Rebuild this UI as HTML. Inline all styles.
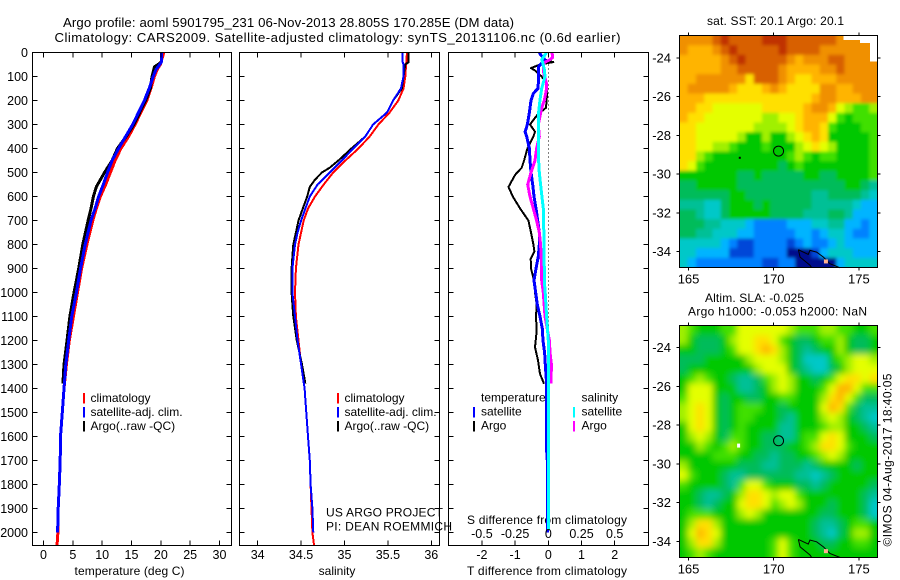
<!DOCTYPE html>
<html>
<head>
<meta charset="utf-8">
<title>Argo profile</title>
<style>
html,body{margin:0;padding:0;background:#fff;}
svg{display:block;}
text{font-family:"Liberation Sans",sans-serif;font-size:12px;fill:#000;}
.ti{font-size:13.2px;}
.tick{font-size:12.5px;}
.mt{font-size:13px;}
</style>
</head>
<body>
<svg id="root" xmlns="http://www.w3.org/2000/svg" width="900" height="580" viewBox="0 0 900 580">
<defs>
<filter id="blur-sst" filterUnits="userSpaceOnUse" x="650" y="0" width="250" height="300"><feGaussianBlur stdDeviation="1.5"/></filter>
<filter id="blur-sla" filterUnits="userSpaceOnUse" x="650" y="290" width="250" height="290"><feGaussianBlur stdDeviation="3.5"/></filter>
<clipPath id="clip-sst"><rect x="679.5" y="35.5" width="198" height="232"/></clipPath>
<clipPath id="clip-sla"><rect x="679.5" y="325.5" width="198" height="232"/></clipPath>
</defs>
<text class="ti" x="63" y="27" textLength="451">Argo profile: aoml 5901795_231 06-Nov-2013 28.805S 170.285E (DM data)</text>
<text class="ti" x="54.5" y="42" textLength="566">Climatology: CARS2009. Satellite-adjusted climatology: synTS_20131106.nc (0.6d earlier)</text>
<text x="129.5" y="575" text-anchor="middle" textLength="110">temperature (deg C)</text>
<text x="337" y="575" text-anchor="middle">salinity</text>
<text x="467" y="575" textLength="160">T difference from climatology</text>
<text x="467" y="524" textLength="160">S difference from climatology</text>
<text x="326" y="516.5" textLength="117">US ARGO PROJECT</text>
<text x="326" y="530.5" textLength="126">PI: DEAN ROEMMICH</text>
<text x="707" y="25" textLength="137">sat. SST: 20.1 Argo: 20.1</text>
<text x="705" y="302" textLength="99">Altim. SLA: -0.025</text>
<text x="688" y="315.5" textLength="179">Argo h1000: -0.053 h2000: NaN</text>
<text x="0" y="0" transform="translate(891.5,546.5) rotate(-90)" textLength="173">©IMOS 04-Aug-2017 18:40:05</text>
</svg>
<script>
// ---- profile data: depths in metres, values in deg C / PSU ----
const depthTicks = [0,100,200,300,400,500,600,700,800,900,1000,1100,1200,1300,1400,1500,1600,1700,1800,1900,2000];
const tempTicks = [0,5,10,15,20,25,30];
const salTicks = [34,34.5,35,35.5,36];
const salTickLabels = ['34','34.5','35','35.5','36'];
const tDiffTicks = [-2,-1,0,1,2];
const tDiffLabels = ['-2','-1','0','1','2'];
const sDiffTicks = [-0.5,-0.25,0,0.25,0.5];
const sDiffLabels = ['-0.5','-0.25','0','0.25','0.5'];

const tempClimDepth = [0,50,70,100,150,200,250,300,350,400,450,500,550,600,650,700,800,900,1000,1100,1200,1300,1400,1500,1600,1700,1800,1900,2000,2055];
const tempClimValue = [20.5,19.9,19.4,18.9,18.3,17.6,16.6,15.6,14.5,13.2,12.2,11.4,10.6,9.7,9,8.4,7.4,6.5,5.8,5.1,4.4,3.9,3.5,3.2,2.9,2.85,2.7,2.5,2.45,2.3];
const tempSatDepth = [0,40,50,70,100,150,200,250,300,350,400,450,500,550,600,650,700,800,900,1000,1100,1200,1300,1400,1500,1600,1700,1800,1900,2000];
const tempSatValue = [20.1,20.1,19.8,19.2,18.7,18,17.2,16.2,15.2,14,12.8,11.7,10.9,10.2,9.4,8.8,8.1,7.1,6.3,5.6,4.8,4.3,3.8,3.5,3.2,2.9,2.85,2.7,2.5,2.4];
const tempArgoDepth = [0,40,60,100,150,200,250,300,350,400,450,500,530,560,600,650,700,800,900,1000,1100,1200,1300,1380];
const tempArgoValue = [20.1,20.1,18.9,18.5,18.2,17.4,16.4,15.4,14.1,12.6,11.7,10.4,9.7,9,8.5,8.1,7.6,6.7,6,5.2,4.5,4,3.5,3.3];

const salClimDepth = [0,50,100,150,200,250,300,350,400,450,500,550,600,650,700,750,800,900,1000,1100,1200,1300,1400,1500,1600,1700,1800,1900,2000,2055];
const salClimValue = [35.72,35.71,35.7,35.68,35.62,35.52,35.39,35.29,35.16,35.01,34.87,34.76,34.66,34.58,34.53,34.5,34.47,34.44,34.43,34.44,34.47,34.5,34.54,34.56,34.58,34.6,34.61,34.62,34.63,34.65];
const salSatDepth = [0,40,50,100,150,200,250,300,350,400,450,500,550,600,650,700,750,800,900,1000,1100,1200,1300,1400,1500,1600,1700,1800,1900,2000];
const salSatValue = [35.67,35.67,35.68,35.68,35.65,35.56,35.49,35.33,35.24,35.1,34.97,34.83,34.69,34.6,34.55,34.5,34.46,34.43,34.4,34.4,34.43,34.46,34.5,34.54,34.56,34.58,34.6,34.61,34.63,34.64];
const salArgoDepth = [0,40,50,100,150,200,250,300,350,400,450,480,500,530,560,600,650,700,750,800,850,900,1000,1050,1100,1200,1300,1380];
const salArgoValue = [35.74,35.74,35.7,35.68,35.66,35.56,35.49,35.33,35.24,35.08,34.93,34.83,34.74,34.66,34.6,34.57,34.52,34.47,34.44,34.41,34.4,34.39,34.39,34.4,34.41,34.45,34.51,34.55];

const dTempArgoDepth = [30,40,50,65,75,100,130,150,200,230,260,300,330,350,400,450,480,510,560,600,650,700,750,800,830,860,900,950,1000,1050,1100,1160,1228,1283,1339,1380];
const dTempArgoValue = [-0.1,0.15,-0.25,-0.52,-0.4,-0.2,-0.05,-0.03,-0.05,-0.07,-0.33,-0.55,-0.4,-0.45,-0.63,-0.73,-0.8,-1,-1.2,-1.07,-0.85,-0.6,-0.52,-0.45,-0.42,-0.53,-0.52,-0.43,-0.4,-0.35,-0.37,-0.35,-0.4,-0.31,-0.25,-0.13];
const dTempSatDepth = [0,10,30,40,60,100,150,170,200,250,300,330,350,400,450,500,550,600,650,700,750,800,850,900,950,1000,1050,1100,1150,1200,1250,1300,1380,1500,1650,1700,2000];
const dTempSatValue = [-0.27,-0.23,-0.1,-0.17,-0.3,-0.29,-0.31,-0.45,-0.52,-0.57,-0.63,-0.7,-0.65,-0.57,-0.55,-0.52,-0.47,-0.43,-0.37,-0.32,-0.27,-0.27,-0.3,-0.37,-0.43,-0.38,-0.33,-0.25,-0.18,-0.16,-0.11,-0.09,-0.05,-0.055,-0.055,-0.03,-0.03];
const dSalArgoDepth = [0,20,30,40,50,70,90,130,150,200,230,300,350,400,450,500,550,600,650,700,750,800,900,950,1000,1100,1200,1250,1300,1380];
const dSalArgoValue = [0.028,0.033,0.013,-0.025,-0.038,-0.038,-0.033,-0.013,-0.013,-0.03,-0.05,-0.075,-0.068,-0.088,-0.1,-0.13,-0.155,-0.138,-0.113,-0.088,-0.068,-0.058,-0.05,-0.05,-0.038,-0.025,0.008,0.013,0.023,0.02];
const dSalSatDepth = [0,30,40,70,100,150,200,250,300,350,400,450,500,550,600,650,700,750,800,900,950,1000,1100,1200,1400,1990];
const dSalSatValue = [-0.013,-0.05,-0.043,-0.03,-0.025,-0.05,-0.063,-0.073,-0.075,-0.075,-0.073,-0.073,-0.068,-0.058,-0.048,-0.038,-0.038,-0.033,-0.033,-0.03,-0.03,-0.023,-0.013,0,0.003,0.003];

// ---- map data: colour-scale index per 0.5 degree cell, north to south ----
const mapLonTicks = [165,170,175];
const mapLatTicks = [-24,-26,-28,-30,-32,-34];
const floatLon = [170.285];
const floatLat = [-28.805];
const coastWestLon = [171.45,171.55,172.13,172.23];
const coastWestLat = [-33.9,-34.28,-34.7,-34.83];
const coastEastLon = [171.45,172.03,172.13,172.52,172.92,173.3,173.9];
const coastEastLat = [-33.9,-34.14,-33.93,-34.02,-34.28,-34.62,-34.83];
const noDataLon = [174.09,176.1,176.1,175.65,175.65,175.07,175.07,174.09];
const noDataLat = [-22.8,-22.8,-24.19,-24.19,-23.23,-23.23,-23.07,-23.07];
const sstRows = [
[13,13,13,13,14,15,14,14,14,14,15,15,15,14,14,14,14,14,14,13,13,13,13,13],
[13,12,12,12,13,14,15,14,14,14,14,14,15,14,14,14,14,13,13,13,13,13,13,13],
[12,12,12,12,12,13,14,15,14,14,14,14,14,13,12,13,13,13,14,14,13,13,13,13],
[12,12,12,12,12,13,13,14,14,14,14,14,13,12,12,12,12,13,13,14,13,13,13,13],
[12,12,13,13,13,13,13,13,11,14,14,14,13,12,11,11,12,12,12,13,13,13,13,13],
[12,13,13,13,13,13,12,11,11,11,12,13,12,11,11,11,11,13,13,12,12,13,13,13],
[12,12,12,11,11,11,11,11,11,11,11,11,11,11,11,11,12,13,13,12,12,12,13,13],
[12,12,11,11,10,10,10,10,10,10,11,11,11,11,11,12,13,13,12,10,9,8,8,9],
[12,11,11,10,10,10,10,10,10,10,9,9,10,10,11,12,12,12,10,8,7,8,8,8],
[11,11,10,10,10,10,10,10,10,9,9,9,9,10,11,12,12,11,8,7,7,7,8,8],
[11,11,10,10,10,10,10,9,7,7,9,7,7,9,10,11,12,11,7,7,7,7,7,8],
[11,11,10,10,9,9,8,7,7,7,8,7,7,7,9,10,11,10,9,7,7,7,7,8],
[11,11,9,8,7,7,7,7,7,7,7,7,7,8,9,8,7,8,8,7,7,7,7,8],
[11,10,8,7,7,7,7,7,7,7,7,7,6,7,8,7,7,7,7,7,7,7,7,8],
[7,7,7,7,7,7,7,6,6,7,6,6,6,6,6,7,7,6,6,7,7,7,7,8],
[6,6,7,7,7,7,7,6,6,6,6,6,6,6,6,6,6,6,6,6,7,7,6,5],
[6,6,6,6,6,6,7,7,6,6,6,6,6,6,6,6,5,5,6,6,6,6,5,4],
[5,5,5,4,4,6,7,7,7,6,7,6,6,6,6,6,5,5,5,5,5,4,3,3],
[6,6,5,4,4,6,7,7,7,7,7,6,6,6,6,5,5,5,6,6,5,3,3,3],
[6,6,6,5,5,4,4,4,3,2,2,2,2,3,3,3,4,4,5,5,3,3,2,3],
[6,6,5,5,4,4,4,3,3,2,2,2,2,2,3,3,2,3,4,4,3,2,2,3],
[4,4,4,4,4,3,2,1,1,2,2,2,2,1,2,3,2,2,3,4,3,3,3,3],
[4,4,3,3,3,3,1,1,1,2,2,2,2,0,0,0,1,3,4,4,4,3,3,3],
[4,3,2,2,2,2,2,2,2,2,1,1,2,2,0,0,0,0,0,3,4,4,4,4]
];
const slaRows = [
[9,8,7,7,7,8,8,10,10,10,10,10,10,9,8,8,8,9,9,8,8,7,7,8],
[9,7,6,6,6,7,9,10,10,11,11,10,8,7,6,6,7,8,8,9,7,6,6,7],
[7,7,6,6,6,7,8,10,10,11,12,11,9,7,6,5,6,7,7,9,7,6,6,7],
[6,6,6,7,7,7,7,7,9,10,10,10,9,7,6,4,4,4,7,8,9,10,10,9],
[6,7,7,7,7,7,7,7,7,9,10,10,10,7,6,5,4,4,6,7,9,10,10,10],
[7,8,9,8,7,7,6,5,5,6,8,9,10,9,7,7,6,7,8,10,11,11,10,11],
[7,10,10,10,7,7,7,5,5,6,7,9,10,9,7,7,7,8,10,12,12,10,8,8],
[8,10,10,10,7,6,7,7,6,6,7,7,8,8,7,7,7,9,11,12,10,8,6,6],
[9,10,11,10,7,6,7,8,8,8,7,7,6,7,7,7,7,10,12,11,8,6,5,5],
[9,10,11,10,7,6,7,8,8,7,7,7,6,5,7,7,7,9,10,9,7,6,5,4],
[7,10,11,10,7,6,7,8,7,7,7,7,5,5,7,7,7,8,9,9,7,7,6,5],
[7,9,10,9,7,6,8,8,7,7,6,6,5,5,7,8,8,10,11,10,7,7,7,6],
[7,7,9,8,7,8,9,8,7,7,6,6,6,7,7,8,9,11,11,10,8,7,7,7],
[7,7,7,7,8,8,8,7,7,6,6,5,6,6,7,7,8,9,10,9,7,7,7,7],
[9,7,7,7,7,7,7,6,6,6,5,5,6,6,6,5,6,7,7,7,7,6,7,7],
[10,8,7,7,7,6,5,5,6,6,6,6,6,6,5,5,4,5,6,7,7,7,7,7],
[8,7,7,7,7,6,5,8,10,10,8,7,7,7,6,6,5,6,7,7,7,7,7,6],
[7,7,6,5,5,6,7,9,11,11,10,9,10,10,8,7,7,7,7,7,7,7,6,5],
[7,7,6,5,6,7,7,10,11,11,10,8,9,10,9,7,7,7,6,7,7,7,6,4],
[7,8,8,8,7,7,7,9,10,9,7,7,7,7,7,7,7,6,6,7,7,7,6,4],
[7,9,11,11,9,7,7,7,7,7,7,7,7,7,7,7,6,5,5,6,7,8,8,7],
[7,10,12,11,10,7,7,7,7,7,7,7,7,7,7,7,6,5,4,6,7,9,9,7],
[7,9,11,11,9,7,7,7,7,7,7,8,10,8,7,7,7,6,6,7,7,8,8,7],
[7,8,9,8,7,7,7,7,7,7,7,8,10,8,7,7,7,7,7,7,7,7,7,7]
];

// ---- layout and scales ----
const svg = document.getElementById('root');
const NS = 'http://www.w3.org/2000/svg';
const COLORS = ['#000a8c','#0046d8','#0082ff','#00b4ff','#00c8c8','#00c096','#00bc5a','#00c800','#40e000','#a0f000','#e4ff00','#ffe000','#ffb400','#f09000','#d86000','#c03000'];
const TOP = 52.5, BOTTOM = 545.5;
function yDepth(d){ return TOP + d * 0.24; }
function xTemp(t){ return 43.5 + t * 5.867; }
function xSal(s){ return 257.7 + (s - 34) * 86.8; }
function xDT(t){ return 548.3 + t * 33.2; }
function xDS(s){ return 548.3 + s * 132.8; }
function xLon(lon){ return 773.7 + (lon - 170) * 17.03; }
function ySst(lat){ return 58 + (-24 - lat) * 19.37; }
function ySla(lat){ return 347.7 + (-24 - lat) * 19.37; }

function mk(tag, attrs){
  const el = document.createElementNS(NS, tag);
  for (const k in attrs) el.setAttribute(k, attrs[k]);
  svg.appendChild(el);
  return el;
}
function lbl(str, x, y, anchor, cls){
  const el = mk('text', {x: x, y: y, 'text-anchor': anchor, 'class': cls});
  el.textContent = str;
  
  
  return el;
}
function seg(x1, y1, x2, y2){
  const el = mk('line', {x1: x1, y1: y1, x2: x2, y2: y2, stroke: '#000', 'stroke-width': 1, 'shape-rendering': 'crispEdges'});
  
  
  return el;
}
function frame(x0, y0, x1, y1, name){
  const el = mk('rect', {x: x0, y: y0, width: x1 - x0, height: y1 - y0, fill: 'none', stroke: '#000', 'stroke-width': 1, 'shape-rendering': 'crispEdges'});
  
  
  return el;
}
function series(depths, values, xf, color, name, width){
  const pts = depths.map(function(d, i){ return xf(values[i]).toFixed(1) + ',' + yDepth(d).toFixed(1); }).join(' ');
  const el = mk('polyline', {points: pts, fill: 'none', stroke: color, 'stroke-width': width, 'stroke-linejoin': 'round', 'shape-rendering': 'crispEdges'});
  
  
  return el;
}
function legendBar(x, y, color){
  const el = mk('rect', {x: x, y: y, width: 2, height: 10.5, fill: color, 'shape-rendering': 'crispEdges'});
  
  
  return el;
}
function legendText(str, x, y){
  const el = mk('text', {x: x, y: y});
  el.textContent = str;
  
  
  return el;
}
function depthAxis(x0, x1, labelled){
  depthTicks.forEach(function(d){
    seg(x0, yDepth(d), x0 + 5, yDepth(d));
    seg(x1 - 5, yDepth(d), x1, yDepth(d));
    if (labelled) lbl(String(d), 28, yDepth(d) + 4.5, 'end', 'tick');
  });
}
function xAxisTicks(vals, labels, xf){
  vals.forEach(function(v, i){
    seg(xf(v), TOP, xf(v), TOP + 5);
    seg(xf(v), BOTTOM - 5, xf(v), BOTTOM);
    lbl(labels[i], xf(v), 559, 'middle', 'tick');
  });
}

// temperature panel
series(tempClimDepth, tempClimValue, xTemp, '#ff0000', 'temperature-climatology-line', 3);
series(tempArgoDepth, tempArgoValue, xTemp, '#000000', 'temperature-argo-line', 3);
series(tempSatDepth, tempSatValue, xTemp, '#0000ff', 'temperature-satellite-line', 3);
frame(32.5, TOP, 231.5, BOTTOM, 'temperature-panel-frame');
depthAxis(32.5, 231.5, true);
xAxisTicks(tempTicks, tempTicks.map(String), xTemp);
legendBar(83, 393, '#ff0000');
legendBar(83, 407, '#0000ff');
legendBar(83, 421, '#000000');
legendText('climatology', 90.5, 402);
legendText('satellite-adj. clim.', 90.5, 416);
legendText('Argo(..raw -QC)', 90.5, 430);

// salinity panel
series(salClimDepth, salClimValue, xSal, '#ff0000', 'salinity-climatology-line', 2);
series(salArgoDepth, salArgoValue, xSal, '#000000', 'salinity-argo-line', 2);
series(salSatDepth, salSatValue, xSal, '#0000ff', 'salinity-satellite-line', 2);
frame(239.5, TOP, 439.5, BOTTOM, 'salinity-panel-frame');
depthAxis(239.5, 439.5, false);
xAxisTicks(salTicks, salTickLabels, xSal);
legendBar(337, 393, '#ff0000');
legendBar(337, 407, '#0000ff');
legendBar(337, 421, '#000000');
legendText('climatology', 344.5, 402);
legendText('satellite-adj. clim.', 344.5, 416);
legendText('Argo(..raw -QC)', 344.5, 430);

// difference panel
const zeroLine = mk('line', {x1: xDT(0), y1: TOP, x2: xDT(0), y2: 335, stroke: '#000', 'stroke-width': 1, 'stroke-dasharray': '1 3', 'shape-rendering': 'crispEdges'});


series(dTempArgoDepth, dTempArgoValue, xDT, '#000000', 'difference-t-argo-line', 2);
series(dTempSatDepth, dTempSatValue, xDT, '#0000ff', 'difference-t-satellite-line', 3);
series(dSalArgoDepth, dSalArgoValue, xDS, '#ff00ff', 'difference-s-argo-line', 3);
series(dSalSatDepth, dSalSatValue, xDS, '#00ffff', 'difference-s-satellite-line', 3);
frame(448.5, TOP, 648.5, BOTTOM, 'difference-panel-frame');
depthAxis(448.5, 648.5, false);
xAxisTicks(tDiffTicks, tDiffLabels, xDT);
sDiffTicks.forEach(function(v, i){
  lbl(sDiffLabels[i], xDS(v), 538, 'middle', 'tick');
});
legendBar(473, 407, '#0000ff');
legendBar(473, 421, '#000000');
legendBar(573, 407, '#00ffff');
legendBar(573, 421, '#ff00ff');
legendText('temperature', 481, 401.5);
legendText('satellite', 481, 415.5);
legendText('Argo', 481, 429.5);
legendText('salinity', 581.5, 401.5);
legendText('satellite', 581.5, 415.5);
legendText('Argo', 581.5, 429.5);

// maps
function drawMap(rows, yLat, top, bottom, prefix, titleY){
  const left = 679.5, right = 877.5;
  const nR = rows.length, nC = rows[0].length;
  const cw = (right - left) / nC;
  const ch = (bottom - top) / nR;
  const outer = mk('g', {'clip-path': 'url(#clip-' + prefix + ')'});
  
  
  const inner = document.createElementNS(NS, 'g');
  inner.setAttribute('filter', 'url(#blur-' + prefix + ')');
  
  
  outer.appendChild(inner);
  rows.forEach(function(row, r){
    row.forEach(function(v, c){
      if (v === null) return;
      const padL = c === 0 ? 12 : 0, padR = c === nC - 1 ? 12 : 0;
      const padT = r === 0 ? 12 : 0, padB = r === nR - 1 ? 12 : 0;
      const cell = document.createElementNS(NS, 'rect');
      cell.setAttribute('x', left + c * cw - padL);
      cell.setAttribute('y', top + r * ch - padT);
      cell.setAttribute('width', cw + 0.5 + padL + padR);
      cell.setAttribute('height', ch + 0.5 + padT + padB);
      cell.setAttribute('fill', COLORS[v]);
      
      
      inner.appendChild(cell);
    });
  });
  const cWest = mk('polyline', {points: coastWestLon.map(function(l, i){ return xLon(l) + ',' + yLat(coastWestLat[i]); }).join(' '), fill: 'none', stroke: '#000', 'stroke-width': 1});
  
  
  const cEast = mk('polyline', {points: coastEastLon.map(function(l, i){ return xLon(l) + ',' + yLat(coastEastLat[i]); }).join(' '), fill: 'none', stroke: '#000', 'stroke-width': 1});
  
  
  const isle = mk('rect', {x: xLon(172.95), y: yLat(-34.4), width: 4, height: 4, fill: '#ffb090'});
  
  
  const float = mk('circle', {cx: xLon(floatLon[0]), cy: yLat(floatLat[0]), r: 5, fill: 'none', stroke: '#000', 'stroke-width': 1});
  
  
  if (prefix === 'sst') {
    const mask = mk('polygon', {points: noDataLon.map(function(l, i){ return xLon(l) + ',' + yLat(noDataLat[i]); }).join(' '), fill: '#fff', 'shape-rendering': 'crispEdges'});
    
    
  }
  frame(left, top, right, bottom, prefix + '-map-frame');
  mapLonTicks.forEach(function(lon){
    seg(xLon(lon), top - 3, xLon(lon), top);
    seg(xLon(lon), bottom, xLon(lon), bottom + 3);
    lbl(String(lon), xLon(lon), titleY, 'middle', 'mt');
  });
  mapLatTicks.forEach(function(lat){
    seg(left - 3, yLat(lat), left, yLat(lat));
    seg(right, yLat(lat), right + 3, yLat(lat));
    lbl(String(lat), 671, yLat(lat) + 4.5, 'end', 'mt');
  });
}
drawMap(sstRows, ySst, 35.5, 267.5, 'sst', 283.5);
drawMap(slaRows, ySla, 325.5, 557.5, 'sla', 573.5);

const speckSst = mk('rect', {x: xLon(167.95), y: ySst(-29.1), width: 2, height: 2, fill: '#000'});


const speckSla = mk('rect', {x: xLon(167.85), y: ySla(-28.95), width: 3, height: 4, fill: '#fff'});


</script>
</body>
</html>
